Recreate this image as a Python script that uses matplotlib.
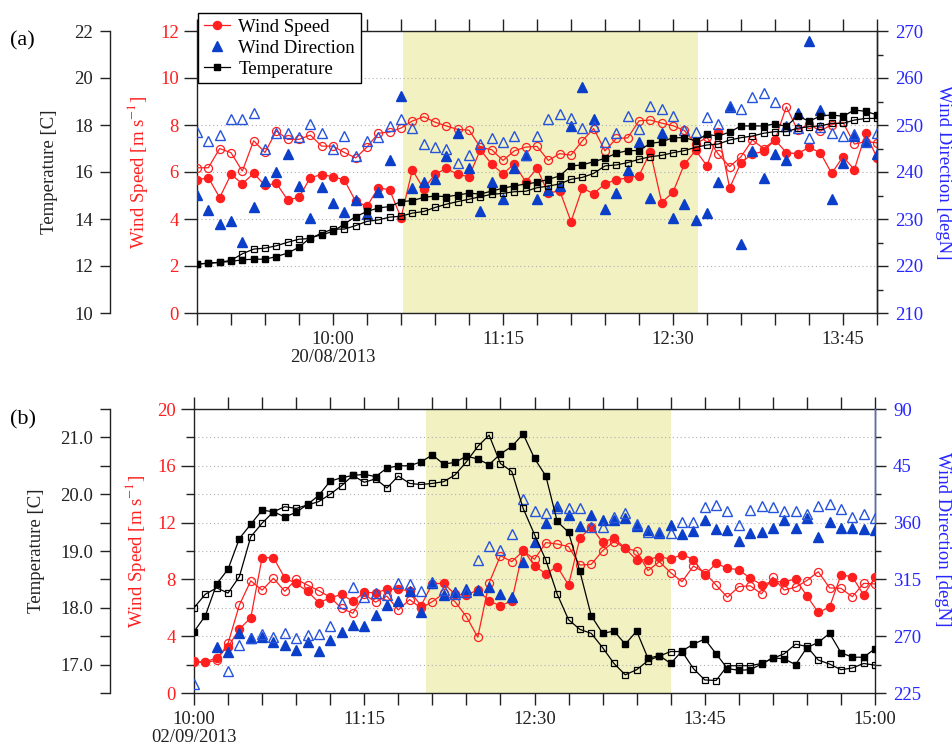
import numpy as np
import pandas as pd
import matplotlib
matplotlib.use('Agg')
import matplotlib.pyplot as plt
import matplotlib.dates as mdates

plt.rcParams['font.family'] = ['Liberation Serif', 'DejaVu Serif']
plt.rcParams['mathtext.fontset'] = 'stix'

nan = np.nan

# ---------------- Panel (a): 20/08/2013, 5-minute data from 09:00 ----------------
start_a = '2013-08-20 09:00'
end_a = '2013-08-20 14:00'
shade_a = ('2013-08-20 10:31', '2013-08-20 12:41')
label_times_a = ['10:00', '11:15', '12:30', '13:45']
date_a = '20/08/2013'

ws_a_filled = [5.66, 5.76, 4.91, 5.90, 5.50, 5.94, 5.43, 5.52, 4.81, 4.92,
               5.76, 5.89, 5.80, 5.66, 4.75, 4.54, 5.33, 5.24, 4.05, 6.09,
               5.28, 5.90, 6.15, 5.90, 5.80, 6.95, 6.33, 5.92, 6.35, 5.58,
               6.15, 5.09, 5.21, 3.89, 5.31, 5.08, 5.50, 5.67, 5.75, 5.84,
               6.86, 4.70, 5.14, 6.33, 6.92, 6.26, 7.69, 5.32, 6.40, 6.76,
               6.88, 7.37, 6.82, 6.78, 7.05, 6.82, 5.94, 6.65, 6.10, 7.64, 6.61]
ws_a_open = [6.18, 6.18, 7.00, 6.82, 6.04, 7.33, 6.83, 7.75, 7.39, 7.39,
             7.57, 7.10, 7.10, 6.83, 6.60, 7.06, 7.65, 7.70, 7.87, 8.17,
             8.35, 8.12, 7.96, 7.81, 7.78, 7.05, 6.95, 6.49, 6.90, 7.06,
             7.09, 6.49, 6.78, 6.72, 7.33, 7.85, 6.90, 7.43, 7.45, 8.18,
             8.21, 8.08, 7.97, 7.77, 7.20, 7.47, 6.76, 6.23, 6.65, 7.36,
             7.00, 7.36, 8.77, 7.78, 8.04, 7.74, 8.02, 8.11, 7.19, 7.29, 7.24]
temp_a_filled = [12.08, 12.12, 12.15, 12.20, 12.26, 12.29, 12.29, 12.40, 12.55, 12.80,
                 13.20, 13.33, 13.47, 13.79, 14.10, 14.32, 14.47, 14.53, 14.74, 14.78,
                 14.92, 14.98, 14.95, 15.02, 15.10, 15.06, 15.19, 15.31, 15.41, 15.49,
                 15.56, 15.69, 15.83, 16.26, 16.30, 16.44, 16.58, 16.80, 16.91, 16.91,
                 17.22, 17.28, 17.46, 17.46, 17.33, 17.60, 17.53, 17.70, 17.96, 17.96,
                 17.96, 18.05, 17.94, 18.39, 18.16, 18.38, 18.43, 18.37, 18.64, 18.58, 18.43]
temp_a_open = [12.08, 12.12, 12.16, 12.24, 12.52, 12.72, 12.76, 12.86, 13.01, 13.14,
               13.17, 13.40, 13.57, 13.57, 13.72, 13.90, 13.96, 14.08, 14.12, 14.25,
               14.32, 14.49, 14.63, 14.74, 14.84, 14.95, 15.05, 15.09, 15.16, 15.18,
               15.33, 15.40, 15.49, 15.69, 15.77, 15.94, 16.26, 16.30, 16.40, 16.54,
               16.65, 16.71, 16.82, 16.91, 17.05, 17.15, 17.19, 17.36, 17.46, 17.53,
               17.65, 17.72, 17.72, 17.86, 17.93, 17.96, 18.07, 18.07, 18.21, 18.28, 18.28]
wd_a_filled = [235.1, 232.0, 229.0, 229.5, 225.2, 232.5, 238.0, 240.1, 243.8, 237.0,
               230.3, 236.8, 233.5, 231.5, 234.1, 231.0, 235.8, 242.6, 256.1, 236.6,
               237.8, 238.6, 243.3, 248.4, 240.8, 231.8, 237.8, 234.2, 240.8, 243.6,
               234.2, 236.1, 237.0, 249.7, 258.0, 251.2, 232.2, 235.5, 240.5, 246.3,
               234.4, 248.4, 230.2, 233.2, 229.7, 231.2, 237.9, 253.8, 224.6, 244.5,
               238.8, 243.9, 242.5, 252.5, 267.8, 253.2, 234.2, 241.9, 247.7, 246.5, 243.9]
wd_a_open = [248.6, 246.6, 247.9, 251.2, 251.2, 252.5, 245.0, 248.2, 248.2, 247.5,
             250.2, 248.4, 244.8, 247.7, 243.4, 246.5, 247.5, 249.8, 251.2, 249.4,
             245.9, 245.3, 244.9, 241.9, 243.6, 246.0, 247.2, 246.3, 247.7, 243.6,
             247.7, 251.2, 252.4, 251.4, 249.3, 249.7, 246.3, 248.4, 251.9, 249.1,
             254.0, 253.4, 252.0, 249.0, 248.6, 251.7, 250.2, 254.0, 253.4, 255.9,
             256.8, 255.0, 249.8, 249.3, 247.2, 249.5, 248.4, 247.7, 248.0, 246.3, 248.3]

# ---------------- Panel (b): 02/09/2013, 5-minute data from 10:00 ----------------
start_b = '2013-09-02 10:00'
end_b = '2013-09-02 15:00'
shade_b = ('2013-09-02 11:42', '2013-09-02 13:30')
label_times_b = ['10:00', '11:15', '12:30', '13:45', '15:00']
date_b = '02/09/2013'

ws_b_filled = [2.23, 2.17, 2.50, 3.25, 4.50, 5.30, 9.53, 9.53, 8.10, 7.72,
               7.16, 6.37, 6.69, 6.95, 6.45, 7.09, 7.05, 7.31, 7.31, 7.20,
               6.14, 7.70, 7.72, 6.95, 6.90, 7.25, 6.48, 6.14, 6.49, 10.10,
               8.95, 8.40, 8.90, 7.61, 10.90, 11.71, 10.60, 10.92, 10.19, 9.35,
               9.40, 9.60, 9.43, 9.75, 9.40, 8.31, 9.13, 8.78, 8.69, 8.08,
               7.64, 7.84, 7.84, 8.02, 6.84, 5.67, 6.05, 8.31, 8.19, 6.90, 8.14]
ws_b_open = [2.17, 2.15, 2.30, 3.50, 6.20, 7.90, 7.24, 8.08, 7.16, 8.02,
             7.60, 7.20, 6.75, 5.96, 5.61, 6.95, 6.40, 6.82, 5.85, 6.58,
             5.98, 6.43, 7.02, 6.43, 5.38, 3.93, 7.75, 9.67, 9.25, 10.00,
             9.42, 10.59, 10.49, 10.31, 9.01, 9.06, 10.02, 10.66, 10.19, 10.00,
             8.62, 9.25, 8.47, 7.84, 8.94, 8.47, 7.60, 6.74, 7.49, 7.55,
             6.98, 8.15, 7.25, 7.45, 7.92, 8.54, 7.40, 7.37, 6.78, 7.72, 7.68]
temp_b_filled = [17.58, 17.86, 18.42, 18.68, 19.22, 19.47, 19.72, 19.69, 19.60, 19.68,
                 19.82, 19.98, 20.23, 20.29, 20.33, 20.35, 20.31, 20.46, 20.50, 20.50,
                 20.57, 20.69, 20.53, 20.56, 20.67, 20.62, 20.52, 20.71, 20.84, 21.06,
                 20.63, 20.32, 19.52, 19.33, 18.64, 17.86, 17.55, 17.59, 17.36, 17.59,
                 17.11, 17.16, 17.02, 17.24, 17.36, 17.45, 17.19, 16.93, 16.90, 16.91,
                 17.01, 17.12, 17.10, 17.00, 17.30, 17.39, 17.55, 17.21, 17.13, 17.13, 17.28]
temp_b_open = [18.00, 18.24, 18.35, 18.26, 18.55, 19.25, 19.49, 19.69, 19.78, 19.75,
               19.81, 19.87, 20.00, 20.15, 20.33, 20.21, 20.27, 20.11, 20.32, 20.19,
               20.17, 20.19, 20.22, 20.34, 20.57, 20.84, 21.04, 20.54, 20.40, 19.75,
               19.29, 18.84, 18.24, 17.79, 17.62, 17.55, 17.30, 17.02, 16.82, 16.91,
               17.07, 17.15, 17.23, 17.23, 16.93, 16.73, 16.72, 16.98, 16.98, 16.98,
               17.02, 17.11, 17.19, 17.36, 17.32, 17.08, 17.01, 16.91, 16.94, 17.02, 16.99]
# wind direction in degN (values past north are shown on the 360-450 part of the axis)
wd_b_filled = [nan, nan, 261.2, 257.7, 272.3, 268.3, 269.4, 265.5, 263.0, 259.3,
               265.7, 258.2, 266.6, 273.4, 278.9, 278.1, 286.5, 294.4, 298.0, 305.6,
               288.8, 312.5, 303.0, 304.9, 307.2, 306.8, 308.9, 303.5, 301.3, 329.1,
               344.9, 359.8, 13.5, 6.3, 357.2, 5.9, 1.8, 2.3, 3.4, 357.4,
               354.4, 352.1, 358.3, 351.2, 353.0, 2.3, 354.9, 354.2, 345.7, 351.5,
               352.8, 356.0, 2.0, 356.0, 3.4, 348.9, 0.8, 356.0, 356.0, 354.9, 354.2]
wd_b_open = [232.0, nan, nan, 242.7, 263.0, 268.3, 271.6, 269.7, 272.3, 268.3,
             270.6, 272.0, 278.2, 296.2, 309.3, 300.9, 304.3, 303.0, 312.5, 311.6,
             306.0, 312.8, 306.9, 303.8, 304.9, 330.4, 341.2, 338.6, 350.8, 18.9,
             9.3, 7.3, 11.3, 11.5, 11.5, 356.7, 356.4, 4.1, 7.7, 358.8,
             352.4, 352.8, 351.5, 0.8, 0.8, 12.4, 14.0, 9.2, 358.1, 10.0,
             13.2, 12.2, 9.5, 9.2, 6.9, 13.4, 14.7, 10.5, 4.2, 6.9, 3.4]

# ---------------- styling ----------------
RED = '#ff1f1f'
BLUE_M = '#0b3fc9'
BLUE_OPEN = '#2553dd'
BLUE_TXT = '#2626ff'
SHADE = '#f1f1c2'
GRID = '#b0b0b0'
SPINE = '#222222'
FS = 13.5

W, H = 952, 750
fig = plt.figure(figsize=(W / 100, H / 100), dpi=100)


def unwrap(d):
    d = np.asarray(d, dtype=float)
    return np.where(d < 180, d + 360, d)


def panel(px, start, end, shade, label_times, date_str,
          ws_f, ws_o, wd_f, wd_o, t_f, t_o,
          ws_lim, ws_major, ws_minor,
          t_lim, t_ticks, t_labels,
          d_lim, d_major, d_labels, d_minor,
          t_off_px, lab_x, dir_lab_y, blue_spine=None):
    left, top, right, bottom = px
    rect = [left / W, 1 - bottom / H, (right - left) / W, (bottom - top) / H]
    ax = fig.add_axes(rect)
    times = pd.date_range(start, periods=len(ws_f), freq='5min').to_pydatetime()
    x0 = mdates.date2num(pd.Timestamp(start).to_pydatetime())
    x1 = mdates.date2num(pd.Timestamp(end).to_pydatetime())

    # background band and grid
    ax.axvspan(mdates.date2num(pd.Timestamp(shade[0]).to_pydatetime()),
               mdates.date2num(pd.Timestamp(shade[1]).to_pydatetime()),
               color=SHADE, lw=0, zorder=0)
    ax.set_ylim(ws_lim)
    ax.set_yticks(ws_major)
    ax.set_yticks(ws_minor, minor=True)
    ax.set_yticklabels([f'{v:g}' for v in ws_major])
    ax.grid(axis='y', which='both', color=GRID, ls=(0, (1, 2.5)), lw=0.8)
    ax.set_axisbelow(True)

    # wind speed
    h_ws, = ax.plot(times, ws_f, '-o', color=RED, ms=5.8, lw=0.9, zorder=3)
    ax.plot(times, ws_o, '-o', color=RED, mfc='none', mec=RED, ms=5.8, mew=0.9,
            lw=0.9, zorder=3)

    # x axis
    ticks = pd.date_range(start, end, freq='15min').to_pydatetime()
    labels = []
    for t in ticks:
        s = t.strftime('%H:%M')
        if s in label_times:
            labels.append(s + ('\n' + date_str if s == label_times[0] else ''))
        else:
            labels.append('')
    ax.set_xticks(mdates.date2num(ticks))
    ax.set_xticklabels(labels, linespacing=1.1)
    ax.set_xlim(x0, x1)
    ax.tick_params(axis='x', direction='out', length=8.5, width=1.0, top=True,
                   labeltop=False, labelsize=FS, pad=4.5, color=SPINE, labelcolor='#222222')
    ax.tick_params(axis='y', which='major', direction='out', length=9.5, width=1.0,
                   labelsize=FS, pad=3.5, color=SPINE, labelcolor=RED)
    ax.tick_params(axis='y', which='minor', direction='out', length=6, width=1.0, color=SPINE)
    for s in ax.spines.values():
        s.set_linewidth(1.0)
        s.set_color(SPINE)
    ax.set_ylabel('Wind Speed [m s$^{-1}$]', color=RED, fontsize=FS, va='center')
    ax.yaxis.set_label_coords((lab_x[0] - left) / (right - left), 0.5)

    # wind direction
    axd = ax.twinx()
    h_wd, = axd.plot(times, unwrap(wd_f), ls='none', marker='^', color=BLUE_M, ms=6.8, zorder=3)
    axd.plot(times, unwrap(wd_o), ls='none', marker='^', mfc='none', mec=BLUE_OPEN,
             ms=6.8, mew=1.0, zorder=3)
    axd.set_ylim(d_lim)
    axd.set_yticks(d_major)
    axd.set_yticklabels(d_labels)
    axd.set_yticks(d_minor, minor=True)
    axd.tick_params(axis='y', which='major', direction='out', length=8, width=1.0,
                    labelsize=FS, pad=5, color=SPINE, labelcolor=BLUE_TXT)
    axd.tick_params(axis='y', which='minor', direction='out', length=4.5, width=1.0, color=SPINE)
    for k, s in axd.spines.items():
        s.set_visible(k == 'right')
        s.set_linewidth(1.0)
        s.set_color(SPINE)
    if blue_spine is not None:
        axd.spines['right'].set_color('#4a6ee0')
        axd.spines['right'].set_bounds(*blue_spine)
    axd.set_ylabel('Wind Direction [degN]', color=BLUE_TXT, fontsize=FS, rotation=-90,
                   va='center')
    axd.yaxis.set_label_coords((lab_x[2] - left) / (right - left), dir_lab_y)

    # temperature
    axt = ax.twinx()
    axt.yaxis.tick_left()
    axt.yaxis.set_label_position('left')
    axt.spines['left'].set_position(('outward', t_off_px * 0.72))
    for k, s in axt.spines.items():
        s.set_visible(k == 'left')
        s.set_linewidth(1.0)
        s.set_color(SPINE)
    h_t, = axt.plot(times, t_f, '-s', color='black', ms=4.8, lw=0.9, zorder=4)
    axt.plot(times, t_o, '-s', color='black', mfc='none', mec='black', ms=4.8, mew=0.9,
             lw=0.9, zorder=4)
    axt.set_ylim(t_lim)
    axt.set_yticks(t_ticks)
    axt.set_yticklabels(t_labels)
    axt.tick_params(axis='y', direction='out', length=7.2, width=1.0, labelsize=FS,
                    pad=5, color=SPINE, labelcolor='#222222')
    axt.set_ylabel('Temperature [C]', color='#222222', fontsize=FS, va='center')
    axt.yaxis.set_label_coords((lab_x[1] - left) / (right - left), 0.5)
    return ax, (h_ws, h_wd, h_t)


ax_a, handles = panel((197, 31, 877, 313), start_a, end_a, shade_a, label_times_a, date_a,
                      ws_a_filled, ws_a_open, wd_a_filled, wd_a_open, temp_a_filled, temp_a_open,
                      (0, 12), np.arange(0, 13, 2), [],
                      (10, 22), np.arange(10, 23, 2), [str(v) for v in range(10, 23, 2)],
                      (210, 270), np.arange(210, 271, 10), [str(v) for v in range(210, 271, 10)],
                      np.arange(215, 270, 10),
                      87, (137, 50, 943), 0.5)

b_t_ticks = np.arange(16.5, 21.51, 0.5)
b_t_labels = [f'{v:.1f}' if abs(v - round(v)) < 1e-6 else '' for v in b_t_ticks]
ax_b, _ = panel((194, 409, 875, 693), start_b, end_b, shade_b, label_times_b, date_b,
                ws_b_filled, ws_b_open, wd_b_filled, wd_b_open, temp_b_filled, temp_b_open,
                (0, 20), np.arange(0, 21, 4), np.arange(2, 19, 4),
                (16.5, 21.5), b_t_ticks, b_t_labels,
                (225, 450), np.arange(225, 451, 45), ['225', '270', '315', '360', '45', '90'],
                np.arange(247.5, 450, 45),
                84, (135, 37, 942), 0.54, blue_spine=(360, 450))

leg = fig.legend(handles=list(handles), labels=['Wind Speed', 'Wind Direction', 'Temperature'],
                 loc='upper left', bbox_to_anchor=(198 / W, 1 - 13 / H), frameon=True,
                 fancybox=False, edgecolor='black', framealpha=1, fontsize=FS,
                 handlelength=1.4, handletextpad=0.45, labelspacing=0.2, borderpad=0.3,
                 borderaxespad=0, numpoints=1)
leg.get_frame().set_linewidth(1.0)

fig.text(10 / W, 1 - 41 / H, '(a)', fontsize=16, ha='left', va='center')
fig.text(10 / W, 1 - 420 / H, '(b)', fontsize=16, ha='left', va='center')

fig.savefig('out.png', dpi=100)
